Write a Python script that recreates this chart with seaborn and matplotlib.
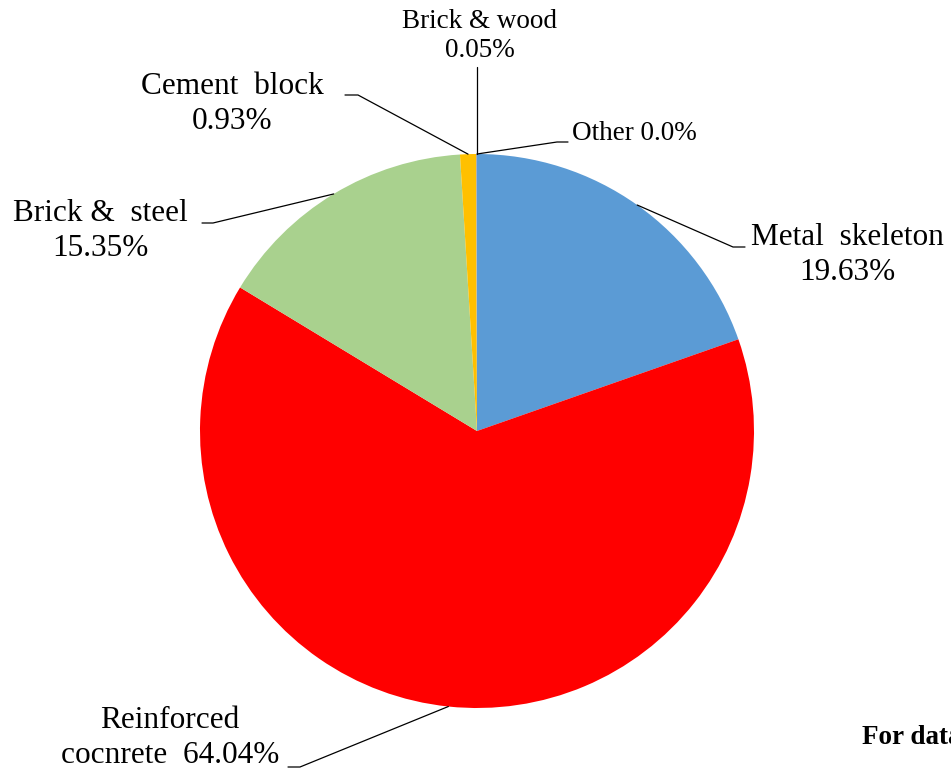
import matplotlib
matplotlib.use("Agg")
import matplotlib.pyplot as plt
import numpy as np
import seaborn as sns

# shares of building types by structural material (%)
materials = ["Metal  skeleton", "Reinforced\ncocnrete", "Brick &  steel",
             "Cement  block", "Brick & wood", "Other"]
shares = [19.63, 64.04, 15.35, 0.93, 0.05, 0.0]
share_text = ["19.63%", "64.04%", "15.35%", "0.93%", "0.05%", "0.0%"]
palette = ["#5B9BD5", "#FF0000", "#A9D18E", "#FFC000", "#A5A5A5", "#4472C4"]

sns.set_theme(style="white")
plt.rcParams["font.family"] = ["Liberation Serif", "DejaVu Serif"]

W, H = 951, 776
fig = plt.figure(figsize=(W / 100, H / 100), dpi=100)
ax = fig.add_axes([0, 0, 1, 1])

cx, cy, r = 477, 431, 277
# y axis is flipped below (pixel-like coords), so counterclock=True from -90
# draws clockwise from 12 o'clock on screen
wedges, _ = ax.pie(shares, colors=palette, startangle=-90, counterclock=True,
                   center=(cx, cy), radius=r,
                   wedgeprops=dict(linewidth=0))
ax.set_xlim(0, W)
ax.set_ylim(H, 0)
ax.set_aspect("equal")
ax.axis("off")


def anchor(w):
    mid = np.deg2rad((w.theta1 + w.theta2) / 2)
    return cx + r * np.cos(mid), cy + r * np.sin(mid)


big = 22.5
small = 19.5

# label layout: (text xy, ha, size, elbow point, line end)
layout = [
    ((847, 255), "center", big, (733, 247), (745, 247)),
    ((170, 738), "center", big, (300, 767), (288, 767)),
    ((100, 231), "center", big, (213, 223), (202, 223)),
    ((232, 104), "center", big, (358, 95), (345, 95)),
    ((480, 36), "center", small, None, None),
    ((572, 133), "left", small, (557, 142), (568, 142)),
]

for i, w in enumerate(wedges):
    (tx, ty), ha, fs, elbow, end = layout[i]
    ax0, ay0 = anchor(w)
    if i == 1:
        txt = materials[i] + "  " + share_text[i]
    elif i == 5:
        txt = materials[i] + " " + share_text[i]
    else:
        txt = materials[i] + "\n" + share_text[i]
    ax.text(tx, ty, txt, ha=ha, va="center", fontsize=fs, color="black",
            multialignment="center", linespacing=1.25)
    if elbow is None:
        ax.plot([ax0, ax0], [ay0, 67], color="black", lw=0.9)
    else:
        ax.plot([ax0, elbow[0], end[0]], [ay0, elbow[1], end[1]],
                color="black", lw=0.9)

ax.text(862, 738, "For data", ha="left", va="center", fontsize=19.5,
        fontweight="bold", color="black")

fig.savefig("out.png", dpi=100)
